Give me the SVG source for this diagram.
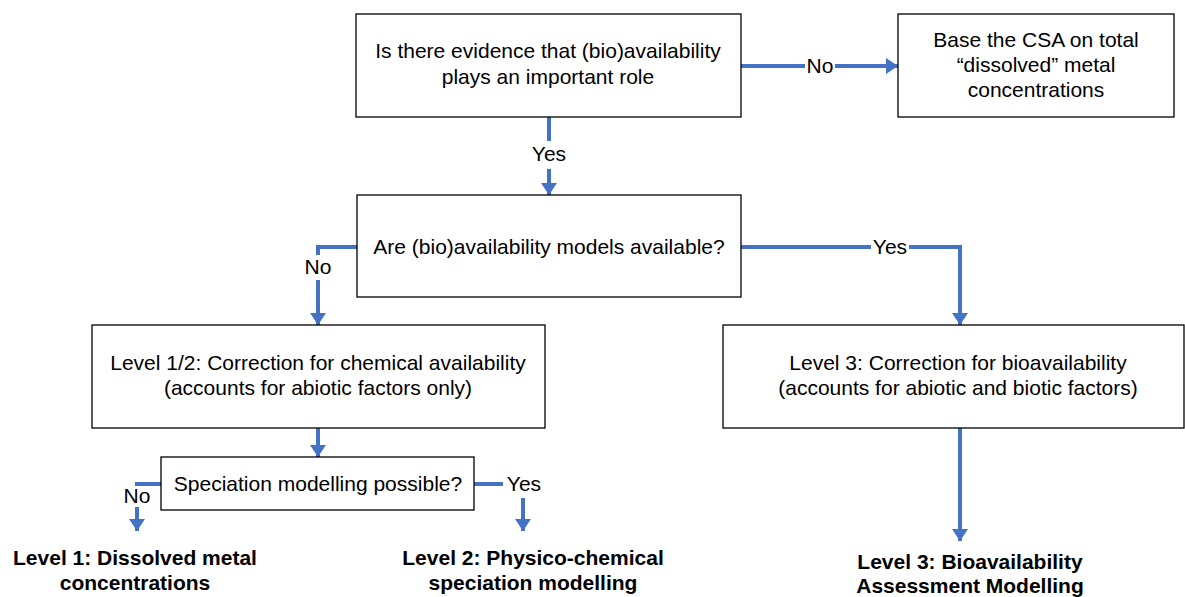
<svg xmlns="http://www.w3.org/2000/svg" width="1185" height="597" viewBox="0 0 1185 597">
  <defs>
    <style>
      .box { fill: #ffffff; stroke: #000000; stroke-width: 1.3; }
      .t { font-family: "Liberation Sans", Arial, sans-serif; font-size: 21px; fill: #000000; text-anchor: middle; }
      .b { font-family: "Liberation Sans", Arial, sans-serif; font-size: 21px; font-weight: bold; fill: #000000; text-anchor: middle; }
      .c { fill: none; stroke: #4472C4; stroke-width: 4; }
    </style>
    <marker id="ah" markerWidth="3" markerHeight="4" refX="3" refY="2" orient="auto" markerUnits="strokeWidth">
      <path d="M0,0 L3,2 L0,4 Z" fill="#4472C4"/>
    </marker>
  </defs>
  <rect width="1185" height="597" fill="#ffffff"/>

  <g id="connectors">
    <!-- evidence -> base on dissolved -->
    <path class="c" d="M741,66 H805"/>
    <path class="c" d="M835,66 H898" marker-end="url(#ah)"/>
    <text class="t" x="820" y="73">No</text>
    <!-- evidence -> models available -->
    <path class="c" d="M549,117 V141"/>
    <path class="c" d="M549,169 V195" marker-end="url(#ah)"/>
    <text class="t" x="549" y="161">Yes</text>
    <!-- models available -> level 1/2 -->
    <path class="c" d="M357,247 H318 V255"/>
    <path class="c" d="M318,280 V325" marker-end="url(#ah)"/>
    <text class="t" x="318" y="274">No</text>
    <!-- models available -> level 3 -->
    <path class="c" d="M741,247 H871"/>
    <path class="c" d="M909,247 H960 V325" marker-end="url(#ah)"/>
    <text class="t" x="890" y="254">Yes</text>
    <!-- level 1/2 -> speciation -->
    <path class="c" d="M318,428 V457" marker-end="url(#ah)"/>
    <!-- speciation -> level 1 -->
    <path class="c" d="M161,484 H135"/>
    <path class="c" d="M137,507 V531" marker-end="url(#ah)"/>
    <text class="t" x="137" y="503">No</text>
    <!-- speciation -> level 2 -->
    <path class="c" d="M474,484 H503"/>
    <path class="c" d="M523,498 V531" marker-end="url(#ah)"/>
    <text class="t" x="524" y="491">Yes</text>
    <!-- level 3 correction -> modelling -->
    <path class="c" d="M960,428 V541" marker-end="url(#ah)"/>
  </g>

  <g id="evidence">
    <rect class="box" x="356" y="14" width="385" height="103"/>
    <text class="t" x="548" y="58">Is there evidence that (bio)availability</text>
    <text class="t" x="548" y="84">plays an important role</text>
  </g>

  <g id="dissolved-basis">
    <rect class="box" x="898" y="14" width="276" height="103"/>
    <text class="t" x="1036" y="47">Base the CSA on total</text>
    <text class="t" x="1036" y="72">“dissolved” metal</text>
    <text class="t" x="1036" y="97">concentrations</text>
  </g>

  <g id="models-available">
    <rect class="box" x="357" y="195" width="384" height="102"/>
    <text class="t" x="549" y="254">Are (bio)availability models available?</text>
  </g>

  <g id="level-1-2">
    <rect class="box" x="92" y="325" width="453" height="103"/>
    <text class="t" x="318" y="370">Level 1/2: Correction for chemical availability</text>
    <text class="t" x="318" y="395">(accounts for abiotic factors only)</text>
  </g>

  <g id="level-3">
    <rect class="box" x="723" y="325" width="461" height="103"/>
    <text class="t" x="958" y="370">Level 3: Correction for bioavailability</text>
    <text class="t" x="958" y="395">(accounts for abiotic and biotic factors)</text>
  </g>

  <g id="speciation">
    <rect class="box" x="161" y="457" width="313" height="53"/>
    <text class="t" x="318" y="491">Speciation modelling possible?</text>
  </g>

  <g id="level-1-result">
    <text class="b" x="135" y="565">Level 1: Dissolved metal</text>
    <text class="b" x="135" y="590">concentrations</text>
  </g>

  <g id="level-2-result">
    <text class="b" x="533" y="565">Level 2: Physico-chemical</text>
    <text class="b" x="533" y="590">speciation modelling</text>
  </g>

  <g id="level-3-result">
    <text class="b" x="970" y="569">Level 3: Bioavailability</text>
    <text class="b" x="970" y="593">Assessment Modelling</text>
  </g>
</svg>
